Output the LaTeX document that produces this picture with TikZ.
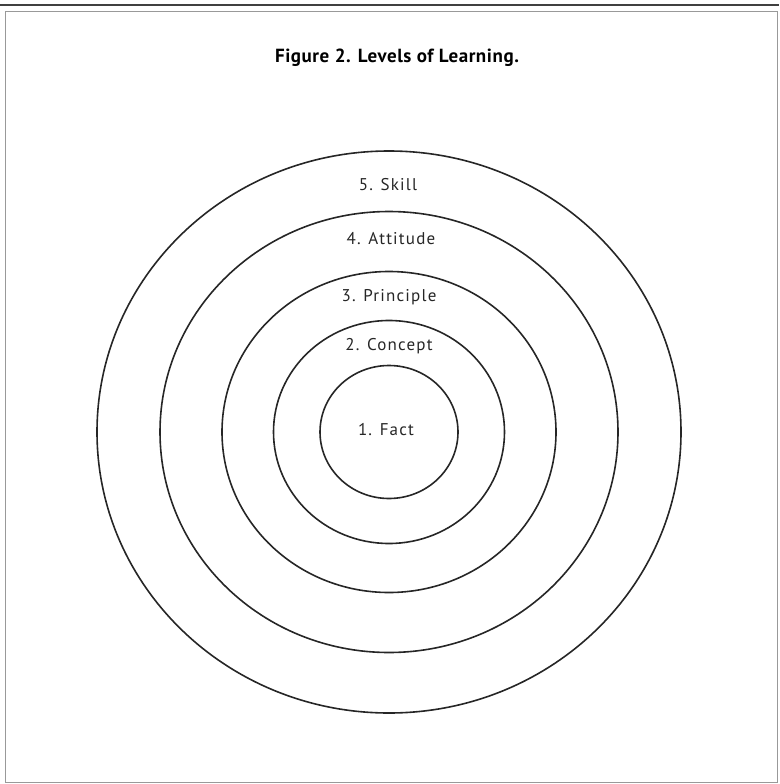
\documentclass[tikz,border=0pt]{standalone}
\usepackage{fontspec}
\setmainfont{PT Sans}
\newfontfamily\spacedfont{PT Sans}[LetterSpace=7]
\newfontfamily\titlefont{PT Sans}[LetterSpace=3]
\begin{document}
\begin{tikzpicture}[x=1pt,y=-1pt,
    ring/.style={line width=1.6pt, draw=black!85},
    level/.style={anchor=base, text=black!85, font=\spacedfont\fontsize{17}{19}\selectfont}]
  \useasboundingbox (0,0) rectangle (779,784);
  \coordinate (O) at (389,432);

  % the frame
  \draw [line width=1.4pt, black!75] (0,5) -- (779,5);
  \draw [line width=0.8pt, black!40] (5,11) -- (5,782) -- (777,782) -- (777,11) -- cycle;

  \node[anchor=base, font=\titlefont\bfseries\fontsize{19}{21}\selectfont] (title) at (397,63) {Figure 2. Levels of Learning.};

  % the rings
  \draw [ring] (O) ellipse (69 and 66.5);
  \draw [ring] (O) ellipse (115.5 and 111.5);
  \draw [ring] (O) ellipse (167 and 160.5);
  \draw [ring] (O) ellipse (229 and 220.5);
  \draw [ring] (O) ellipse (292 and 281);

  \node[level] (fact)      at (386,435) {1. Fact};
  \node[level] (concept)   at (389,350) {2. Concept};
  \node[level] (principle) at (389,301.5) {3. Principle};
  \node[level] (attitude)  at (391,244) {4. Attitude};
  \node[level] (skill)     at (388,190) {5. Skill};
\end{tikzpicture}
\end{document}
